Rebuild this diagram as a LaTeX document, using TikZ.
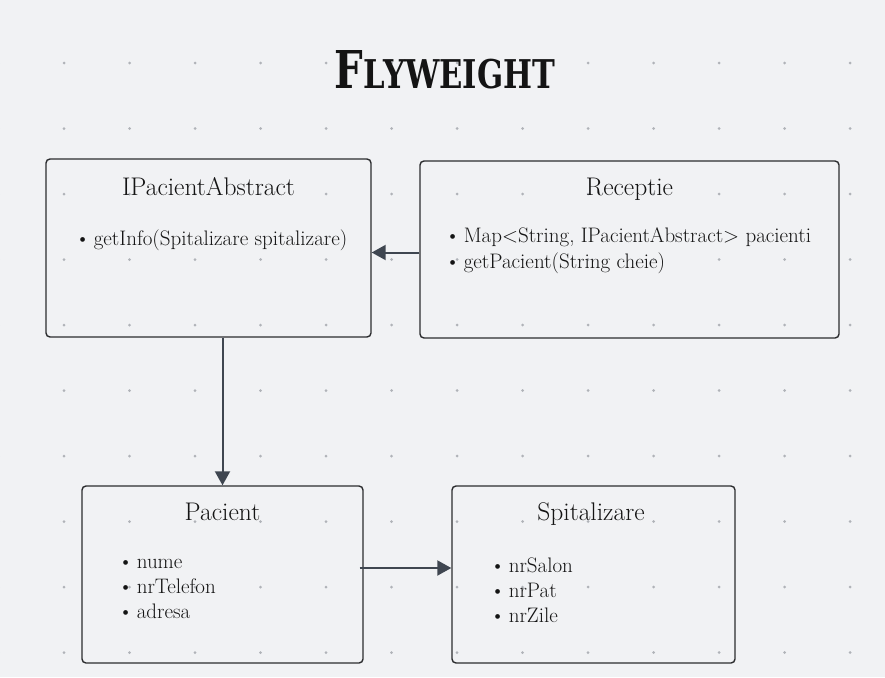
\documentclass[tikz,border=0pt]{standalone}
\usepackage{fontspec}
\usepackage{graphicx}
\usepackage{xcolor}
\usetikzlibrary{arrows.meta}
\newfontfamily\flyfont{DejaVu Serif}
\definecolor{sheetbg}{HTML}{F1F2F4}
\definecolor{griddot}{HTML}{B0B3B8}
\definecolor{boxline}{HTML}{2B2C2E}
\definecolor{linkline}{HTML}{3F4650}
\definecolor{textink}{HTML}{141414}
\newcommand{\umlitem}{\textbullet\hspace{3.5pt}}

\begin{document}
\begin{tikzpicture}[
  x=1pt,
  y=-1pt,
  every node/.style={text=textink, inner sep=0pt},
  umlbox/.style={draw=boxline, line width=1.4pt, rounded corners=4pt, minimum width=#1},
  boxtitle/.style={font=\fontsize{25.5}{30}\selectfont, anchor=base},
  member/.style={font=\fontsize{21}{25}\selectfont, anchor=base west},
  link/.style={draw=linkline, line width=2pt, -{Triangle[length=14pt,width=15pt]}}
]
  % page and dot grid
  \fill[sheetbg] (0,0) rectangle (885,677);
  \useasboundingbox (0,0) rectangle (885,677);
  \foreach \gx in {-1.5,64,...,916}
    \foreach \gy in {-2.5,63,...,680}
      \fill[griddot] (\gx,\gy) circle (1.5);

  % title
  \node[anchor=base] (title) at (445,88)
    {\resizebox{220pt}{38pt}{\flyfont\bfseries F\fontsize{7.6}{8}\selectfont LYWEIGHT}};

  % classes
  \node[umlbox=325pt, minimum height=178pt] (ipa) at (208.5,248) {};
  \node[umlbox=419pt, minimum height=177pt] (recep) at (629.5,249.5) {};
  \node[umlbox=281pt, minimum height=177pt] (pac) at (222.5,574.5) {};
  \node[umlbox=283pt, minimum height=177pt] (spit) at (593.5,574.5) {};

  \node[boxtitle] (ipaname) at (208.5,195) {IPacientAbstract};
  \node[member] (ipaget) at (75,245) {\umlitem getInfo(Spitalizare spitalizare)};

  \node[boxtitle] (recepname) at (629.5,195) {Receptie};
  \node[member] (recepmap) at (445,242) {\umlitem Map\textless String, IPacientAbstract\textgreater\ pacienti};
  \node[member] (recepget) at (445,268) {\umlitem getPacient(String cheie)};

  \node[boxtitle] (pacname) at (222.5,520) {Pacient};
  \node[member] (pacnume) at (118,568) {\umlitem nume};
  \node[member] (pactel) at (118,593) {\umlitem nrTelefon};
  \node[member] (pacadr) at (118,618) {\umlitem adresa};

  \node[boxtitle] (spitname) at (591,520) {Spitalizare};
  \node[member] (spitsalon) at (490,572) {\umlitem nrSalon};
  \node[member] (spitpat) at (490,597) {\umlitem nrPat};
  \node[member] (spitzile) at (490,622) {\umlitem nrZile};

  % connectors
  \draw[link] ([yshift=-3pt]recep.west) -- ([yshift=-3pt]recep.west -| ipa.east);
  \draw[link] (ipa.south -| pac.north) -- (pac.north);
  \draw[link] ([xshift=-4pt,yshift=6.5pt]pac.east) -- ([yshift=6.5pt]pac.east -| spit.west);
\end{tikzpicture}
\end{document}
